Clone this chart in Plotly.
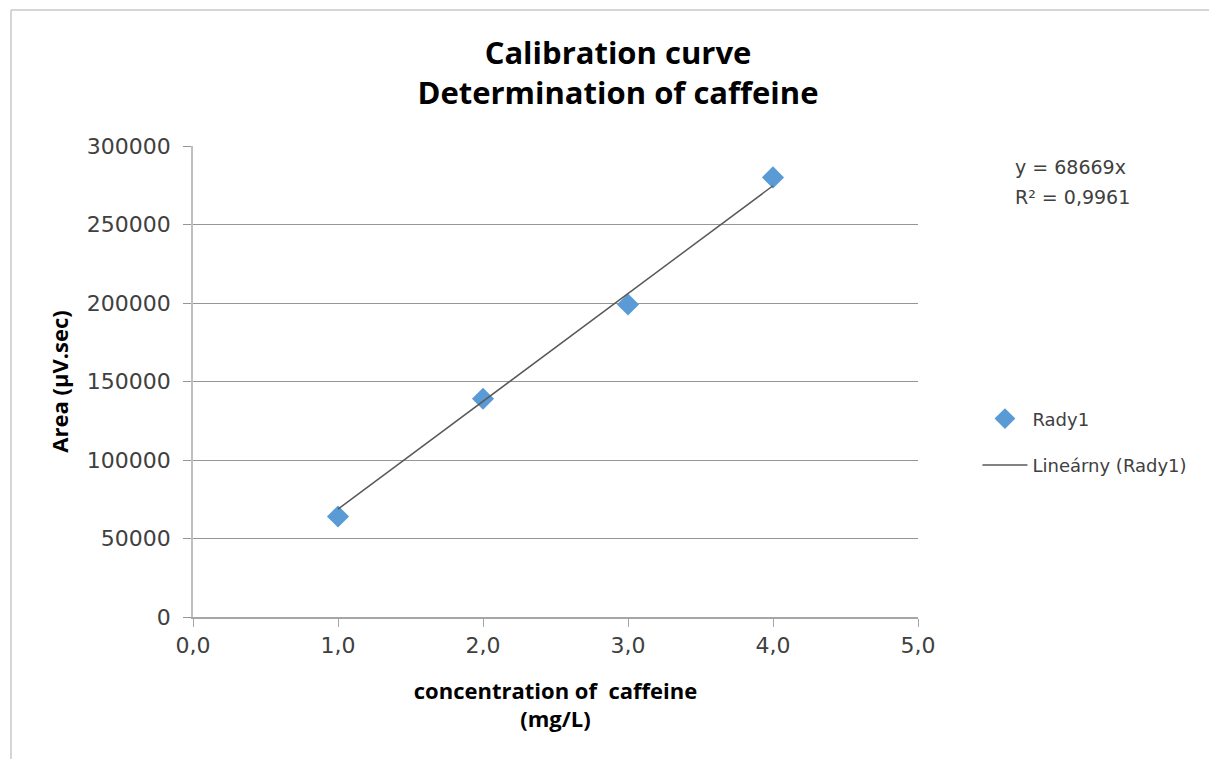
import plotly.graph_objects as go

conc = [1.0, 2.0, 3.0, 4.0]
area = [64000, 139000, 199000, 280000]
slope = 68669
r2_text = "0,9961"
trend_x = [1.0, 4.0]
trend_y = [slope * v for v in trend_x]
x_ticks = [0, 1, 2, 3, 4, 5]
x_tick_labels = ["0,0", "1,0", "2,0", "3,0", "4,0", "5,0"]
y_ticks = [0, 50000, 100000, 150000, 200000, 250000, 300000]

tick_font = dict(family="DejaVu Sans, sans-serif", size=22, color="#404040")
bold_font = "Open Sans, sans-serif"

fig = go.Figure()
fig.add_trace(go.Scatter(
    x=conc, y=area, mode="markers", name="Rady1", legendgroup="a",
    marker=dict(symbol="diamond", size=17, color="#5b9bd5"),
))
fig.add_trace(go.Scatter(
    x=trend_x, y=trend_y, mode="lines", name="Lineárny (Rady1)", legendgroup="b",
    line=dict(color="#595959", width=1.5),
))

fig.update_layout(
    width=1209, height=759,
    margin=dict(l=193, r=291, t=146, b=142),
    paper_bgcolor="white", plot_bgcolor="white",
    title=dict(
        text="<b>Calibration curve<br>Determination of caffeine</b>",
        x=618 / 1209, xanchor="center", y=1 - 64 / 759, yanchor="middle",
        font=dict(family=bold_font, size=31, color="#000000"),
    ),
    showlegend=True,
    legend=dict(
        x=1.082, y=0.46, xanchor="left", yanchor="top",
        font=dict(family="DejaVu Sans, sans-serif", size=18, color="#404040"),
        itemwidth=45, tracegroupgap=20, bgcolor="rgba(0,0,0,0)",
    ),
    xaxis=dict(
        range=[0, 5], tickvals=x_ticks, ticktext=x_tick_labels,
        showgrid=False, zeroline=False,
        showline=True, linecolor="#a6a6a6", linewidth=1.5,
        ticks="outside", ticklen=8, tickcolor="#a6a6a6",
        tickfont=tick_font,
        title=dict(text="<b>concentration of  caffeine<br>(mg/L)</b>",
                   font=dict(family=bold_font, size=22, color="#000000"), standoff=26),
    ),
    yaxis=dict(
        range=[0, 300000], tickvals=y_ticks, tickformat="d",
        showgrid=True, gridcolor="#969696", gridwidth=1,
        zeroline=False,
        showline=True, linecolor="#bfbfbf", linewidth=1.5,
        ticks="outside", ticklen=8, tickcolor="#969696",
        tickfont=tick_font, ticklabelstandoff=8,
        title=dict(text="<b>Area (µV.sec)</b>",
                   font=dict(family=bold_font, size=22, color="#000000"), standoff=12),
    ),
    annotations=[
        dict(text=f"y = {slope}x", xref="paper", yref="paper",
             x=(1070 - 193) / 725, y=(617 - 167) / 471, xanchor="center", yanchor="middle",
             showarrow=False,
             font=dict(family="DejaVu Sans, sans-serif", size=19, color="#404040")),
        dict(text=f"R² = {r2_text}", xref="paper", yref="paper",
             x=(1072 - 193) / 725, y=(617 - 197) / 471, xanchor="center", yanchor="middle",
             showarrow=False,
             font=dict(family="DejaVu Sans, sans-serif", size=19, color="#404040")),
    ],
    shapes=[
        dict(type="line", xref="paper", yref="paper",
             x0=(11 - 193) / 725, x1=(1212 - 193) / 725,
             y0=(617 - 10) / 471, y1=(617 - 10) / 471,
             line=dict(color="#c8c8c8", width=1.5)),
        dict(type="line", xref="paper", yref="paper",
             x0=(11 - 193) / 725, x1=(11 - 193) / 725,
             y0=(617 - 10) / 471, y1=(617 - 762) / 471,
             line=dict(color="#c8c8c8", width=1.5)),
    ],
)

fig.write_html("out.html", config={"displayModeBar": False},
               post_script="document.body.style.margin='0';document.body.style.overflow='hidden';")
